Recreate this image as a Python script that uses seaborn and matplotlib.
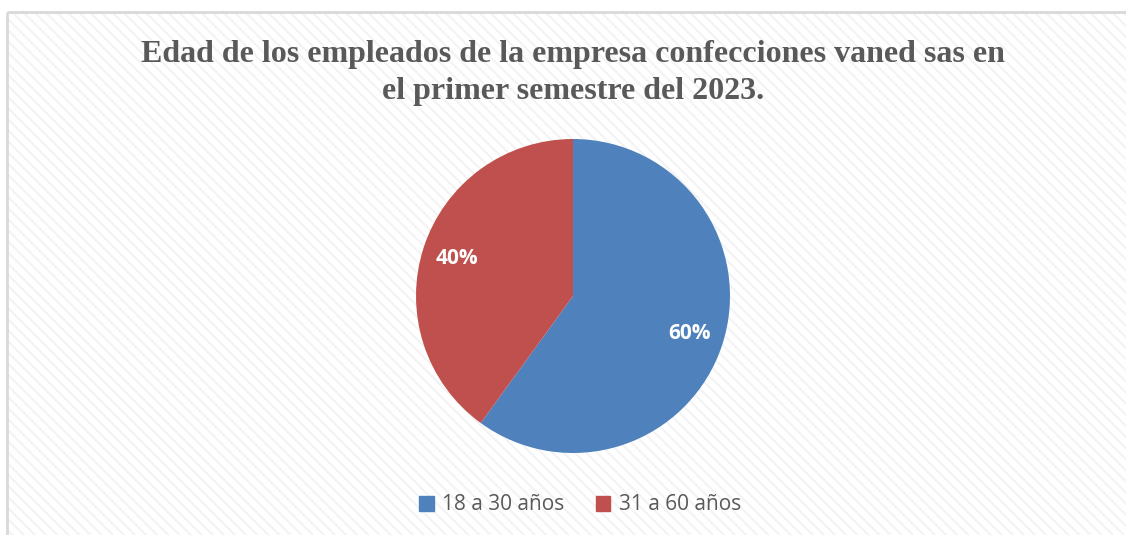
import matplotlib.pyplot as plt
import matplotlib.patches as mpatches
import seaborn as sns

# data
labels = ['18 a 30 años', '31 a 60 años']
values = [60, 40]
colors = ['#4f81bd', '#c0504d']
title = 'Edad de los empleados de la empresa confecciones vaned sas en\nel primer semestre del 2023.'

sns.set_theme(style='white')
plt.rcParams['hatch.linewidth'] = 1.5

W, H = 1126, 535
fig = plt.figure(figsize=(W / 100, H / 100), dpi=100)
fig.patch.set_facecolor('white')

# background axes with striped chart area
bgax = fig.add_axes([0, 0, 1, 1], zorder=-1)
bgax.set_xlim(0, W)
bgax.set_ylim(H, 0)
bgax.axis('off')
bgax.add_patch(mpatches.Rectangle((7, 12), W + 20, H + 20, facecolor='white',
                                  edgecolor='#f3f3f3', linewidth=0, hatch='\\\\\\'))
bgax.add_patch(mpatches.Rectangle((7, 12), W + 20, H + 20, facecolor='none',
                                  edgecolor='#d9d9d9', linewidth=2))

# pie
cx, cy, r = 573, H - 296, 157
ax = fig.add_axes([(cx - r) / W, (cy - r) / H, 2 * r / W, 2 * r / H])
wedges, texts, autotexts = ax.pie(values, colors=colors, startangle=90, counterclock=False,
                                  autopct='%1.0f%%', pctdistance=0.78,
                                  wedgeprops=dict(linewidth=0),
                                  textprops=dict(color='white', fontsize=15, fontweight='bold',
                                                 family='Open Sans'))
ax.set_xlim(-1, 1)
ax.set_ylim(-1, 1)
ax.set_aspect('equal')
ax.axis('off')

fig.text(573 / W, 1 - 73 / H, title, ha='center', va='center', fontsize=23,
         fontweight='bold', family='Liberation Serif', color='#595959', linespacing=1.35)

handles = [mpatches.Patch(color=c, label=l) for c, l in zip(colors, labels)]
fig.legend(handles=handles, loc='center', bbox_to_anchor=(580 / W, 1 - 505 / H), ncol=2,
           frameon=False, prop=dict(family='Open Sans', size=15), labelcolor='#595959',
           handlelength=0.7, handleheight=0.7, handletextpad=0.4, columnspacing=1.5)

fig.savefig('out.png', dpi=100)
